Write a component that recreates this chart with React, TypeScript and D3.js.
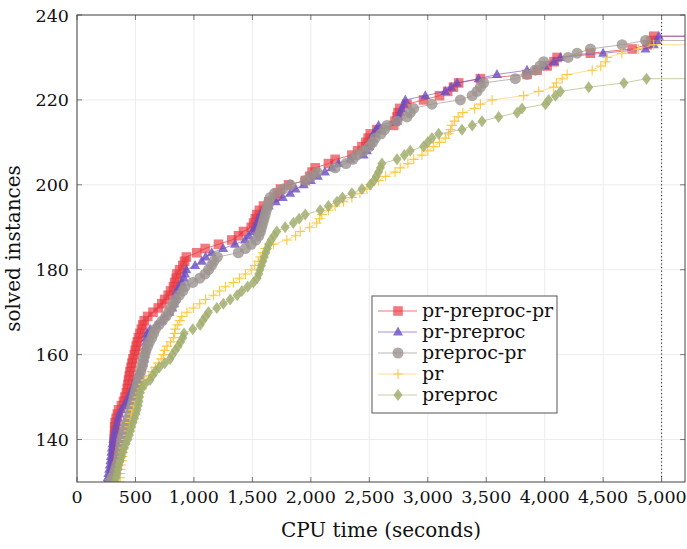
import React from "react";
import { scaleLinear, line } from "d3";

// solve times (seconds) per series; the n-th entry is instance number start + n
const redStart = 129;
const redTimes = [
  300, 305, 307, 309, 310, 311, 312, 313, 314, 315, 316, 318, 320, 322, 324, 326, 335, 345, 355, 380,
  398, 410, 422, 430, 436, 441, 447, 453, 462, 470, 478, 490, 498, 506, 515, 525, 538, 550, 562, 575,
  605, 650, 695, 725, 750, 780, 800, 825, 835, 848, 855, 878, 905, 920, 935, 1024, 1096, 1210, 1324, 1381,
  1424, 1490, 1510, 1525, 1538, 1560, 1595, 1640, 1690, 1715, 1740, 1809, 1952, 1990, 2010, 2037, 2150, 2208, 2351, 2400,
  2437, 2470, 2490, 2508, 2565, 2708, 2720, 2737, 2745, 2760, 2822, 2964, 3100, 3170, 3220, 3264, 3450, 3849, 3935, 4021,
  4080, 4106, 4391, 4748, 4877, 4910, 4933,
];

const purpleStart = 129;
const purpleTimes = [
  250, 254, 262, 268, 275, 280, 285, 290, 294, 297, 303, 310, 318, 325, 333, 343, 352, 365, 380, 405,
  425, 445, 460, 475, 490, 505, 520, 535, 550, 565, 575, 580, 584, 588, 591, 594, 600, 625, 682, 725,
  750, 790, 815, 830, 839, 845, 853, 870, 895, 915, 924, 935, 1010, 1067, 1100, 1153, 1250, 1352, 1438, 1470,
  1500, 1520, 1540, 1555, 1570, 1595, 1640, 1700, 1760, 1823, 1870, 1940, 2000, 2060, 2120, 2180, 2237, 2337, 2451, 2480,
  2500, 2515, 2525, 2537, 2560, 2579, 2737, 2750, 2765, 2780, 2795, 2808, 2979, 3150, 3200, 3250, 3435, 3592, 3849, 4000,
  4080, 4134, 4500, 4862, 4933, 4960, 4976,
];

const grayStart = 129;
const grayTimes = [
  275, 282, 300, 318, 330, 340, 354, 360, 366, 372, 377, 382, 392, 402, 411, 425, 440, 454, 462, 470,
  480, 488, 496, 505, 515, 525, 535, 545, 555, 562, 570, 580, 590, 605, 620, 640, 655, 670, 700, 730,
  760, 785, 805, 825, 845, 875, 905, 924, 990, 1050, 1096, 1125, 1150, 1170, 1200, 1380, 1440, 1490, 1530, 1555,
  1570, 1580, 1590, 1600, 1610, 1620, 1630, 1640, 1652, 1690, 1760, 1823, 1952, 2000, 2052, 2208, 2300, 2360, 2394, 2451,
  2500, 2530, 2551, 2600, 2630, 2651, 2737, 2822, 2850, 2879, 3036, 3279, 3380, 3421, 3450, 3478, 3749, 3849, 3920, 3960,
  3992, 4200, 4277, 4391, 4662, 4862,
];

const yellowStart = 129;
const yellowTimes = [
  360, 366, 368, 370, 372, 378, 383, 388, 393, 398, 410, 422, 432, 440, 448, 455, 462, 468, 482, 496,
  510, 525, 540, 555, 568, 590, 615, 640, 670, 696, 720, 739, 750, 770, 800, 825, 835, 840, 860, 880,
  896, 940, 996, 1050, 1100, 1167, 1220, 1270, 1338, 1390, 1440, 1490, 1520, 1550, 1567, 1590, 1609, 1681, 1795, 1870,
  1909, 1990, 2050, 2075, 2094, 2150, 2208, 2280, 2351, 2420, 2480, 2508, 2580, 2640, 2720, 2765, 2830, 2880, 2950, 3000,
  3050, 3100, 3150, 3178, 3195, 3207, 3230, 3260, 3300, 3400, 3450, 3550, 3820, 3949, 4077, 4100, 4149, 4192, 4406, 4480,
  4519, 4534, 4660, 4800, 4933,
];

const greenStart = 129;
const greenTimes = [
  318, 325, 335, 345, 352, 358, 370, 382, 393, 405, 420, 435, 448, 458, 468, 480, 492, 505, 515, 524,
  530, 535, 539, 555, 580, 625, 645, 670, 705, 750, 796, 815, 839, 865, 885, 905, 915, 990, 1053, 1075,
  1100, 1124, 1196, 1252, 1310, 1370, 1410, 1460, 1509, 1540, 1555, 1565, 1578, 1590, 1602, 1615, 1628, 1640, 1660, 1685,
  1709, 1780, 1850, 1900, 1952, 2080, 2150, 2223, 2270, 2351, 2437, 2508, 2540, 2560, 2579, 2595, 2608, 2737, 2800, 2850,
  2964, 3000, 3036, 3093, 3293, 3380, 3464, 3606, 3764, 3806, 4006, 4034, 4092, 4134, 4377, 4677, 4871,
];

const seriesNames = ["pr-preproc-pr", "pr-preproc", "preproc-pr", "pr", "preproc"];
const xTicks = [0, 500, 1000, 1500, 2000, 2500, 3000, 3500, 4000, 4500, 5000];
const yTicks = [140, 160, 180, 200, 220, 240];
const timeout = 5000;

const W = 687;
const H = 549;
const left = 77, right = 685, top = 15, bottom = 482;
const serif = { fontFamily: "'DejaVu Serif', 'Liberation Serif', serif" };

const x = scaleLinear().domain([0, 5200]).range([left, right]);
const y = scaleLinear().domain([130, 240]).range([bottom, top]);

const styles = [
  { line: "#e41a1c", fill: "#e8323a", mark: "square" },
  { line: "#6a46c2", fill: "#6c4fc0", mark: "triangle" },
  { line: "#8e8884", fill: "#9c948e", mark: "circle" },
  { line: "#fdc94a", fill: "#fdc842", mark: "plus" },
  { line: "#9fac68", fill: "#a2ae6e", mark: "diamond" },
];

const series = [
  [redStart, redTimes],
  [purpleStart, purpleTimes],
  [grayStart, grayTimes],
  [yellowStart, yellowTimes],
  [greenStart, greenTimes],
].map(([start, times]: any) => times.map((t: number, i: number) => [t, start + i]));

function Marker({ kind, cx, cy, color }: any) {
  if (kind === "square")
    return <rect x={cx - 4.8} y={cy - 4.8} width={9.6} height={9.6} fill={color} fillOpacity={0.65} />;
  if (kind === "triangle")
    return <path d={`M${cx},${cy - 5.5}L${cx + 5},${cy + 3.5}L${cx - 5},${cy + 3.5}Z`} fill={color} fillOpacity={0.8} />;
  if (kind === "circle")
    return <circle cx={cx} cy={cy} r={5.5} fill={color} fillOpacity={0.8} />;
  if (kind === "plus")
    return (
      <path d={`M${cx - 5},${cy}H${cx + 5}M${cx},${cy - 5}V${cy + 5}`} stroke={color} strokeWidth={1.1} fill="none" />
    );
  return <path d={`M${cx},${cy - 6}L${cx + 4.5},${cy}L${cx},${cy + 6}L${cx - 4.5},${cy}Z`} fill={color} fillOpacity={0.85} />;
}

const lineGen = line<number[]>()
  .x((d) => x(d[0]))
  .y((d) => y(d[1]));

const fmt = (t: number) => (t >= 1000 ? `${Math.floor(t / 1000)},${String(t % 1000).padStart(3, "0")}` : String(t));

export default function App() {
  return (
    <svg width={W} height={H} style={{ position: "absolute", left: 0, top: 0, background: "#fff" }}>
      <defs>
        <clipPath id="plot">
          <rect x={left} y={top} width={right - left} height={bottom - top} />
        </clipPath>
      </defs>
      {/* grid */}
      {xTicks.map((t) => (
        <line key={"gx" + t} x1={x(t)} x2={x(t)} y1={top} y2={bottom} stroke="#ececec" />
      ))}
      {yTicks.map((t) => (
        <line key={"gy" + t} x1={left} x2={right} y1={y(t)} y2={y(t)} stroke="#ececec" />
      ))}
      <g clipPath="url(#plot)">
        {series.map((pts: any, si) => {
          const last = pts[pts.length - 1];
          return (
            <g key={si}>
              <path d={lineGen([...pts, [5400, last[1]]]) || ""} fill="none" stroke={styles[si].line} strokeWidth={0.8} strokeOpacity={0.75} />
              {pts.map((p: number[], i: number) => (
                <Marker key={i} kind={styles[si].mark} cx={x(p[0])} cy={y(p[1])} color={styles[si].fill} />
              ))}
            </g>
          );
        })}
        <line x1={x(timeout)} x2={x(timeout)} y1={top} y2={bottom} stroke="#222" strokeDasharray="1.2,2.4" strokeWidth={1} />
      </g>
      {/* ticks */}
      {xTicks.map((t) => (
        <g key={"tx" + t}>
          <line x1={x(t)} x2={x(t)} y1={bottom} y2={bottom - 5} stroke="#777" />
          <line x1={x(t)} x2={x(t)} y1={top} y2={top + 5} stroke="#777" />
          <text x={x(t)} y={503} fontSize={17.5} textAnchor="middle" fill="#111" style={serif}>
            {fmt(t)}
          </text>
        </g>
      ))}
      {yTicks.map((t) => (
        <g key={"ty" + t}>
          <line x1={left} x2={left + 5} y1={y(t)} y2={y(t)} stroke="#777" />
          <line x1={right} x2={right - 5} y1={y(t)} y2={y(t)} stroke="#777" />
          <text x={69} y={y(t) + 6.5} fontSize={17.5} textAnchor="end" fill="#111" style={serif}>
            {t}
          </text>
        </g>
      ))}
      <rect x={left} y={top} width={right - left} height={bottom - top} fill="none" stroke="#444" strokeWidth={1} />
      <text x={(left + right) / 2} y={537} fontSize={20} textAnchor="middle" fill="#111" style={serif}>
        CPU time (seconds)
      </text>
      <text transform={`translate(20,${(top + bottom) / 2}) rotate(-90)`} fontSize={20} textAnchor="middle" fill="#111" style={serif}>
        solved instances
      </text>
      {/* legend */}
      <rect x={372} y={296} width={185} height={117} fill="#fff" stroke="#555" />
      {seriesNames.map((name, i) => {
        const cy = 311 + i * 21;
        return (
          <g key={name}>
            <line x1={378} x2={417} y1={cy} y2={cy} stroke={styles[i].line} strokeWidth={0.8} strokeOpacity={0.75} />
            <Marker kind={styles[i].mark} cx={398} cy={cy} color={styles[i].fill} />
            <text x={422} y={cy + 5.5} fontSize={19} fill="#111" style={serif}>
              {name}
            </text>
          </g>
        );
      })}
    </svg>
  );
}
